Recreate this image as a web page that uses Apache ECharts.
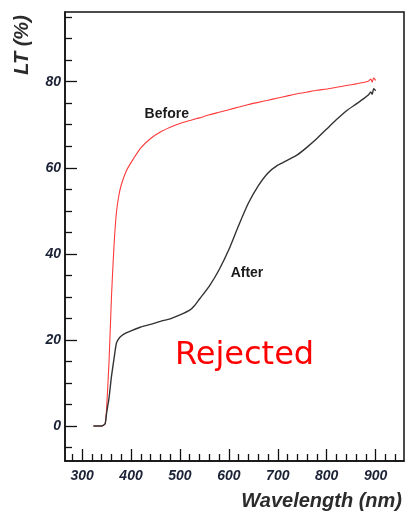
<!DOCTYPE html>
<html>
<head>
<meta charset="utf-8">
<script src="https://cdn.jsdelivr.net/npm/echarts@6/dist/echarts.min.js"></script>
<style>
html,body{margin:0;padding:0;background:#fff;}
#chart{width:414px;height:513px;}
</style>
</head>
<body>
<div id="chart"></div>
<script>
const wavelength = [323, 330, 340, 347, 350, 355, 360, 365, 370, 375, 380, 390, 400, 420, 440, 460, 480, 500, 520, 530, 540, 560, 580, 600, 620, 640, 660, 680, 700, 720, 740, 760, 780, 800, 820, 840, 860, 875, 885, 890, 893, 896, 900];
const before = [0, 0, 0, 0.5, 4, 15, 30, 41.5, 49.5, 53.5, 56, 59.2, 61.2, 64.6, 66.8, 68.3, 69.4, 70.3, 71, 71.3, 71.6, 72.3, 72.9, 73.5, 74.1, 74.7, 75.2, 75.7, 76.2, 76.7, 77.2, 77.6, 78, 78.3, 78.7, 79.1, 79.5, 79.8, 80.1, 80.6, 79.9, 80.9, 80.3];
const after = [0, 0, 0, 0.5, 3, 6.5, 11.5, 15.5, 19.2, 20.3, 20.9, 21.6, 22.1, 23, 23.6, 24.3, 24.9, 25.8, 26.9, 28, 29.5, 32.5, 36.3, 41, 46.6, 51.8, 55.8, 58.8, 60.6, 61.8, 63, 64.8, 66.8, 69, 71.2, 73.2, 74.8, 76, 76.9, 77.6, 77.1, 78.4, 77.9];
const xTickLabels = [300, 400, 500, 600, 700, 800, 900];
const yTickLabels = [0, 20, 40, 60, 80];
const xMinorTicks = [280, 320, 340, 360, 380, 420, 440, 460, 480, 520, 540, 560, 580, 620, 640, 660, 680, 720, 740, 760, 780, 820, 840, 860, 880, 920, 940];
const yMinorTicks = [-5, 5, 10, 15, 25, 30, 35, 45, 50, 55, 65, 70, 75, 85, 90, 95];

const X_MIN = 265, X_MAX = 958, Y_MIN = -8.15, Y_MAX = 96.2;
const labelFont = {fontFamily: 'Liberation Sans', fontStyle: 'italic', fontWeight: 'bold', fontSize: 14, color: '#1b2235'};

const chart = echarts.init(document.getElementById('chart'), null, {renderer: 'canvas'});
const axisCommon = {type: 'value', min: X_MIN, max: X_MAX, splitLine: {show: false}};
const option = {
  animation: false,
  backgroundColor: '#fff',
  grid: {left: 65, right: 10, top: 12, bottom: 52, show: true, borderColor: '#111', borderWidth: 1.5, backgroundColor: 'transparent'},
  xAxis: [
    Object.assign({}, axisCommon, {
      position: 'bottom',
      axisLine: {show: true, onZero: false, lineStyle: {color: '#111', width: 1.5}},
      axisTick: {show: true, inside: true, length: 12, lineStyle: {color: '#111', width: 1.3}, customValues: xTickLabels},
      axisLabel: Object.assign({show: true, margin: 8, customValues: xTickLabels}, labelFont)
    }),
    Object.assign({}, axisCommon, {
      position: 'bottom',
      axisLine: {show: false, onZero: false},
      axisTick: {show: true, inside: true, length: 7, lineStyle: {color: '#111', width: 1.3}, customValues: xMinorTicks},
      axisLabel: {show: false}
    })
  ],
  yAxis: [
    {
      type: 'value', min: Y_MIN, max: Y_MAX, position: 'left', splitLine: {show: false},
      axisLine: {show: true, onZero: false, lineStyle: {color: '#111', width: 1.5}},
      axisTick: {show: true, inside: true, length: 12, lineStyle: {color: '#111', width: 1.3}, customValues: yTickLabels},
      axisLabel: Object.assign({show: true, margin: 4, customValues: yTickLabels}, labelFont)
    },
    {
      type: 'value', min: Y_MIN, max: Y_MAX, position: 'left', splitLine: {show: false},
      axisLine: {show: false, onZero: false},
      axisTick: {show: true, inside: true, length: 7, lineStyle: {color: '#111', width: 1.3}, customValues: yMinorTicks},
      axisLabel: {show: false}
    }
  ],
  series: [
    {
      name: 'Before', type: 'line', xAxisIndex: 0, yAxisIndex: 0, showSymbol: false,
      smooth: 0.2,
      lineStyle: {color: '#ff3a3a', width: 1.1},
      data: wavelength.map((w, i) => [w, before[i]]),
      z: 2
    },
    {
      name: 'After', type: 'line', xAxisIndex: 0, yAxisIndex: 0, showSymbol: false,
      smooth: 0.2,
      lineStyle: {color: '#333333', width: 1.4},
      data: wavelength.map((w, i) => [w, after[i]]),
      z: 3
    }
  ]
};
chart.setOption(option);

const pBefore = chart.convertToPixel({xAxisIndex: 0, yAxisIndex: 0}, [473, 72.5]);
const pAfter = chart.convertToPixel({xAxisIndex: 0, yAxisIndex: 0}, [637, 35.4]);
const pRej = chart.convertToPixel({xAxisIndex: 0, yAxisIndex: 0}, [632, 16.4]);
chart.setOption({
  graphic: [
    {type: 'text', x: pBefore[0], y: pBefore[1], style: {text: 'Before', align: 'center', verticalAlign: 'middle', font: 'bold 14px "Liberation Sans"', fill: '#1a1a1a'}},
    {type: 'text', x: pAfter[0], y: pAfter[1], style: {text: 'After', align: 'center', verticalAlign: 'middle', font: 'bold 14px "Liberation Sans"', fill: '#1a1a1a'}},
    {type: 'text', x: pRej[0], y: pRej[1], style: {text: 'Rejected', align: 'center', verticalAlign: 'middle', font: '32px "DejaVu Sans"', fill: '#ff0000'}},
    {type: 'text', x: 22, y: 45, rotation: Math.PI / 2, style: {text: 'LT (%)', align: 'center', verticalAlign: 'middle', font: 'italic bold 20px "Liberation Sans"', fill: '#2b2b2b'}},
    {type: 'text', x: 402, y: 501, style: {text: 'Wavelength (nm)', align: 'right', verticalAlign: 'middle', font: 'italic bold 20px "Liberation Sans"', fill: '#2b2b2b'}}
  ]
});
</script>
</body>
</html>
